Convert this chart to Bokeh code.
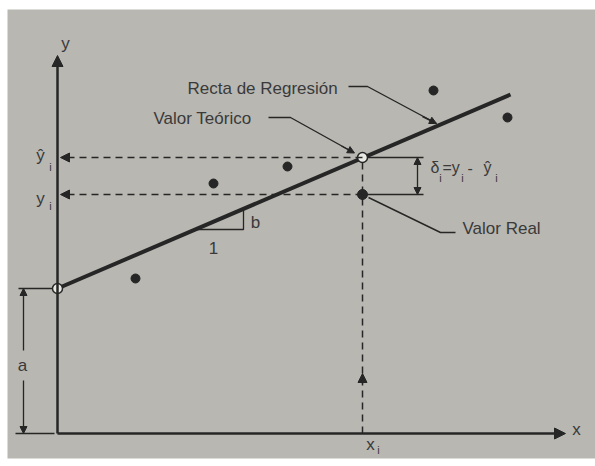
from bokeh.plotting import figure
from bokeh.models import Range1d, Arrow, NormalHead
from bokeh.core.properties import value
from bokeh.embed import file_html
from bokeh.resources import INLINE

# ---------------- data (diagram units) ----------------
obs_x = [7.8, 15.6, 23.0, 37.6, 45.0]
obs_y = [15.5, 25.0, 26.7, 34.3, 31.6]
intercept_a = 14.5
line_x = [0.0, 45.3]
line_y = [14.5, 33.9]
x_i = 30.5
y_i = 23.9
yhat_i = 27.6
axis_x_end = 50.8
axis_y_end = 37.8
slope_x = [13.8, 18.6]
slope_y = [20.4, 22.5]

labels_main = ["Recta de Regresión", "Valor Teórico", "Valor Real"]
label_x = [13.0, 9.6, 40.5]
label_y = [34.5, 31.5, 20.5]

BG = "#b8b7b1"
INK = "#262626"
TXT = "#3a3a3a"
FONT = value("Liberation Sans")

p = figure(width=595, height=460, x_range=Range1d(-5.0, 53.8), y_range=Range1d(-2.5, 42.4),
           output_backend="svg", toolbar_location=None,
           min_border_left=7, min_border_top=9, min_border_right=0, min_border_bottom=2,
           x_axis_type=None, y_axis_type=None)
p.grid.visible = False
p.background_fill_color = BG
p.border_fill_color = "white"
p.outline_line_color = None


def arrow(x0, y0, x1, y1, size=9, width=1.5, dash="solid"):
    head = NormalHead(size=size, fill_color=INK, line_color=INK, line_width=1)
    p.add_layout(Arrow(end=head, x_start=x0, y_start=y0, x_end=x1, y_end=y1,
                       line_color=INK, line_width=width, line_dash=dash))


# axes
arrow(0, 0, 0, axis_y_end, size=11, width=2.5)
arrow(0, 0, axis_x_end, 0, size=11, width=2.5)

# dashed projections
arrow(x_i, yhat_i, 0.3, yhat_i, size=9, width=1.5, dash="7 5")
arrow(x_i, y_i, 0.3, y_i, size=9, width=1.5, dash="7 5")
p.segment(x0=[x_i], y0=[0], x1=[x_i], y1=[yhat_i], line_color=INK, line_width=1.5, line_dash="7 5")
arrow(x_i, 5.0, x_i, 6.0, size=9, width=1.5)

# regression line
p.line(line_x, line_y, line_color=INK, line_width=4)

# slope triangle
p.line([slope_x[0], slope_x[1], slope_x[1]], [slope_y[0], slope_y[0], slope_y[1]],
       line_color=INK, line_width=1.3)

# a dimension
p.segment(x0=[-3.9, -4.2], y0=[intercept_a, 0], x1=[-0.2, -0.3], y1=[intercept_a, 0],
          line_color=INK, line_width=1.3)
arrow(-3.4, 8.3, -3.4, intercept_a, size=7, width=1.3)
arrow(-3.4, 5.3, -3.4, 0, size=7, width=1.3)

# delta bracket
p.segment(x0=[x_i + 0.4, x_i + 0.4], y0=[yhat_i, y_i], x1=[36.6, 36.6], y1=[yhat_i, y_i],
          line_color=INK, line_width=1.3)
arrow(36.0, (yhat_i + y_i) / 2, 36.0, yhat_i, size=7, width=1.3)
arrow(36.0, (yhat_i + y_i) / 2, 36.0, y_i, size=7, width=1.3)

# leaders
p.line([29.1, 31.0, 37.9], [34.7, 34.7, 31.0], line_color=INK, line_width=1.4)
arrow(36.5, 31.7, 37.9, 31.0, size=7, width=1.4)
p.line([21.1, 23.3, 29.6], [31.6, 31.6, 28.1], line_color=INK, line_width=1.4)
arrow(28.4, 28.75, 29.7, 28.05, size=7, width=1.4)
p.line([39.8, 38.3, 31.1], [20.1, 20.1, y_i - 0.3], line_color=INK, line_width=1.4)

# points
p.scatter(obs_x, obs_y, size=9, fill_color=INK, line_color=INK)
p.scatter([x_i], [y_i], size=10, fill_color=INK, line_color=INK)
p.scatter([0, x_i], [intercept_a, yhat_i], size=10, fill_color="#e9e9e4", line_color=INK, line_width=1.5)

# text labels
p.text(x=label_x, y=label_y, text=labels_main, text_font=FONT, text_font_size="17px",
       text_color=TXT, text_align="left", text_baseline="middle")

main_txt = ["y", "x", "a", "b", "1", "ŷ", "y", "x"]
main_x = [0.8, 51.9, -3.5, 19.8, 15.6, -1.7, -1.7, 31.3]
main_y = [39.0, 0.4, 6.8, 21.1, 18.6, 27.8, 23.5, -1.1]
p.text(x=main_x, y=main_y, text=main_txt, text_font=FONT, text_font_size="17px",
       text_color=TXT, text_align="center", text_baseline="middle")

delta_txt = ["δ", "=y", "-", "ŷ"]
delta_x = [37.3, 38.5, 41.0, 42.6]
delta_y = [26.6, 26.6, 26.6, 26.6]
p.text(x=delta_x, y=delta_y, text=delta_txt, text_font=FONT, text_font_size="16px",
       text_color=TXT, text_align="left", text_baseline="middle")

sub_txt = ["i", "i", "i", "i", "i", "i"]
sub_x = [-0.7, -0.7, 32.1, 38.3, 40.5, 43.9]
sub_y = [26.7, 22.8, -1.6, 25.6, 25.6, 25.6]
p.text(x=sub_x, y=sub_y, text=sub_txt, text_font=FONT, text_font_size="11px",
       text_color=TXT, text_align="center", text_baseline="middle")

open("out.html", "w").write(file_html(p, INLINE))
